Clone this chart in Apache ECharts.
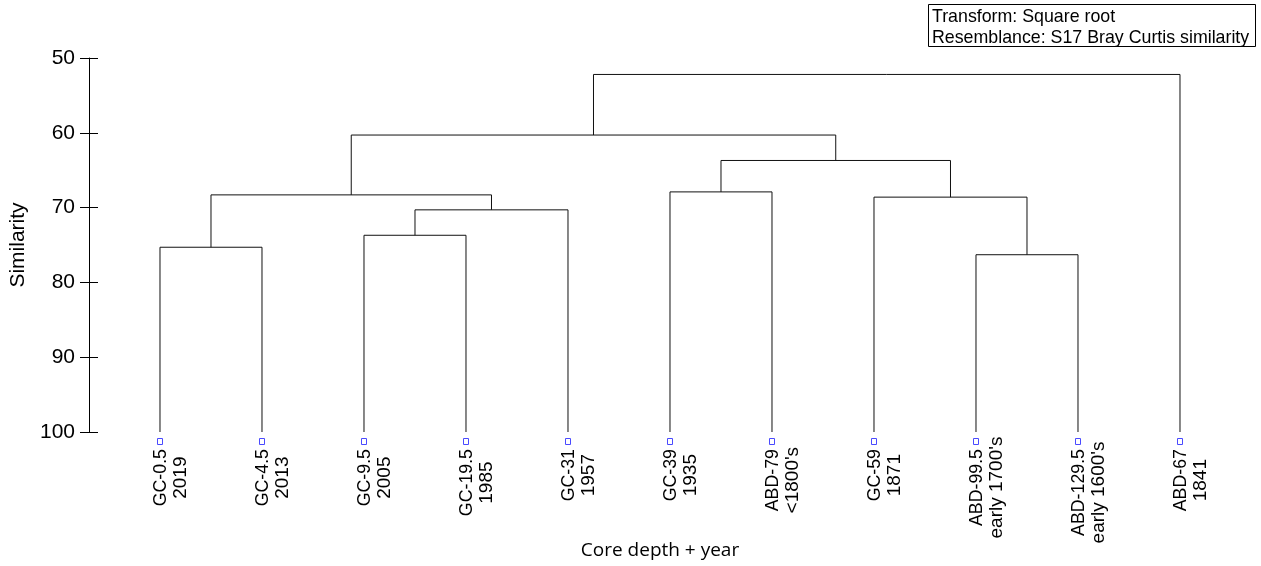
<!DOCTYPE html>
<html>
<head>
<meta charset="utf-8">
<script src="https://cdn.jsdelivr.net/npm/echarts@6/dist/echarts.min.js"></script>
<style>
html,body{margin:0;padding:0;background:#fff;}
#chart{width:1261px;height:566px;}
</style>
</head>
<body>
<div id="chart"></div>
<script>
// ---- data ----
const leafNames = ['GC-0.5','GC-4.5','GC-9.5','GC-19.5','GC-31','GC-39','ABD-79','GC-59','ABD-99.5','ABD-129.5','ABD-67'];
const leafYears = ['2019','2013','2005','1985','1957','1935',"<1800's",'1871',"early 1700's","early 1600's",'1841'];
const mergeA = ['GC-0.5','GC-9.5','M1','M0','GC-39','ABD-99.5','GC-59','M4','M3','M8'];
const mergeB = ['GC-4.5','GC-19.5','GC-31','M2','ABD-79','ABD-129.5','M5','M6','M7','ABD-67'];
const mergeSim = [75.3, 73.7, 70.3, 68.3, 67.9, 76.3, 68.6, 63.7, 60.3, 52.2];
const yTicks = [50, 60, 70, 80, 90, 100];
const infoLines = ['Transform: Square root', 'Resemblance: S17 Bray Curtis similarity'];

// ---- build dendrogram segments ----
const pos = {};
leafNames.forEach((n, i) => { pos[n] = [i, yTicks[yTicks.length - 1]]; });
const segs = [];
mergeSim.forEach((h, i) => {
  const a = pos[mergeA[i]], b = pos[mergeB[i]];
  segs.push([a[0], a[1], b[0], b[1], h]);
  pos['M' + i] = [(a[0] + b[0]) / 2, h];
});

const NAME_FONT = '17.8px "Liberation Sans", Arial, sans-serif';
const YEAR_FONT = '19px "Liberation Sans", Arial, sans-serif';
const mctx = document.createElement('canvas').getContext('2d');
mctx.font = NAME_FONT;

const chart = echarts.init(document.getElementById('chart'));
const yMin = yTicks[0], yMax = yTicks[yTicks.length - 1];
const option = {
  animation: false,
  backgroundColor: '#fff',
  grid: { left: 89, right: 30, top: 58, bottom: 134 },
  xAxis: {
    type: 'value', min: -0.696, max: 10.5,
    axisLine: { show: false, onZero: false }, axisTick: { show: false }, axisLabel: { show: false }, splitLine: { show: false },
    name: 'Core depth + year', nameLocation: 'middle', nameGap: 109,
    nameTextStyle: { fontFamily: '"Open Sans", sans-serif', fontSize: 19, color: '#000' }
  },
  yAxis: [{
    type: 'value', inverse: true, min: yMin, max: yMax, interval: 10,
    axisLine: { show: true, onZero: false, lineStyle: { color: '#000', width: 1 } },
    axisTick: { show: true, length: 9, lineStyle: { color: '#000' } },
    axisLabel: { margin: 14, fontFamily: '"Liberation Sans", Arial, sans-serif', fontSize: 21, color: '#000' },
    splitLine: { show: false },
    name: 'Similarity', nameLocation: 'middle', nameGap: 58,
    nameTextStyle: { fontFamily: '"Liberation Sans", Arial, sans-serif', fontSize: 21, color: '#000' }
  }, {
    type: 'value', inverse: true, min: yMin, max: yMax, interval: 10, position: 'left',
    axisLine: { show: false, onZero: false },
    axisTick: { show: true, inside: true, length: 9, lineStyle: { color: '#000' } },
    axisLabel: { show: false }, splitLine: { show: false }
  }],
  series: [{
    type: 'custom',
    coordinateSystem: 'cartesian2d',
    clip: false,
    data: segs,
    renderItem: function (params, api) {
      const pa = api.coord([api.value(0), api.value(1)]);
      const ph = api.coord([api.value(0), api.value(4)]);
      const pb = api.coord([api.value(2), api.value(3)]);
      const qh = api.coord([api.value(2), api.value(4)]);
      return {
        type: 'polyline',
        shape: { points: [pa, ph, qh, pb] },
        style: { stroke: '#111', lineWidth: 1, fill: null }
      };
    }
  }, {
    type: 'custom',
    coordinateSystem: 'cartesian2d',
    clip: false,
    data: leafNames.map((n, i) => [i, yMax]),
    renderItem: function (params, api) {
      const i = params.dataIndex;
      const p = api.coord([api.value(0), api.value(1)]);
      const w1 = mctx.measureText(leafNames[i]).width;
      const top = p[1] + 17;
      return {
        type: 'group',
        children: [{
          type: 'rect',
          shape: { x: Math.round(p[0]) - 2.5, y: Math.round(p[1]) + 6.5, width: 5, height: 6 },
          style: { fill: '#fff', stroke: '#4a4aff', lineWidth: 1 }
        }, {
          type: 'text',
          x: p[0] + 1, y: top, rotation: Math.PI / 2,
          style: { text: leafNames[i], align: 'right', verticalAlign: 'middle', font: NAME_FONT, fill: '#000' }
        }, {
          type: 'text',
          x: p[0] + 21, y: top + w1 / 2, rotation: Math.PI / 2,
          style: { text: leafYears[i], align: 'center', verticalAlign: 'middle', font: YEAR_FONT, fill: '#000' }
        }]
      };
    }
  }],
  graphic: [{
    type: 'group', left: 928, top: 4,
    children: [{
      type: 'rect', shape: { x: 0.5, y: 0.5, width: 327, height: 42 },
      style: { fill: '#fff', stroke: '#000', lineWidth: 1 }
    }, {
      type: 'text', x: 4, y: 3,
      style: { text: infoLines.join('\n'), font: '17.8px "Liberation Sans", Arial, sans-serif', lineHeight: 21, fill: '#000' }
    }]
  }]
};
chart.setOption(option);
</script>
</body>
</html>
